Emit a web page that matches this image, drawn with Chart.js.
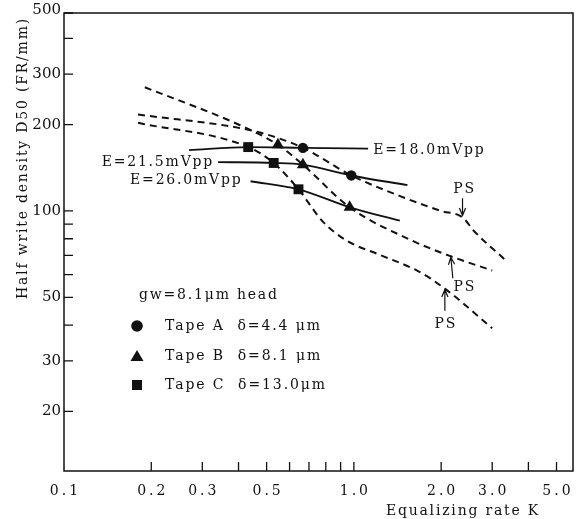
<!DOCTYPE html>
<html>
<head>
<meta charset="utf-8">
<style>
  html, body { margin: 0; padding: 0; background: #fff; }
  #wrap { width: 580px; height: 519px; }
</style>
</head>
<body>
<div id="wrap"><canvas id="chart_1"></canvas></div>
<script src="https://cdn.jsdelivr.net/npm/chart.js@4.4.1/dist/chart.umd.min.js"></script>
<script>
// dashed curves, one per tape (equalizing rate K, half write density D50)
const tapeA_K = [0.18, 0.46, 0.667, 0.98, 1.5, 2.0, 2.37, 2.6, 3.3];
const tapeA_D = [217, 189, 166, 133, 111, 100, 95, 85, 68];
const tapeB_K = [0.19, 0.405, 0.547, 0.667, 0.967, 1.58, 2.16, 3.0];
const tapeB_D = [270, 199, 170, 145, 103, 79, 69.5, 62];
const tapeC_K = [0.18, 0.432, 0.529, 0.644, 0.78, 0.94, 1.22, 1.67, 2.06, 3.0];
const tapeC_D = [203, 167, 147, 119, 92, 79, 70.5, 61.6, 53.6, 39];

// solid lines of constant recording level
const e18_K = [0.27, 0.432, 0.667, 1.12];
const e18_D = [163, 167, 166, 165];
const e215_K = [0.34, 0.529, 0.667, 0.98, 1.53];
const e215_D = [148, 147, 145, 133, 123];
const e26_K = [0.44, 0.644, 0.967, 1.44];
const e26_D = [127, 119, 103, 92.5];
const eLabels = ['E=18.0mVpp', 'E=21.5mVpp', 'E=26.0mVpp'];

// measured points
const circleK = [0.667, 0.98];
const circleD = [166, 133];
const triK = [0.547, 0.667, 0.967];
const triD = [170, 145, 103];
const squareK = [0.432, 0.529, 0.644];
const squareD = [167, 147, 119];

// PS points for tape A, B, C
const psK = [2.37, 2.16, 2.06];
const psD = [95, 69.5, 53.6];

const legendTitle = 'gw=8.1\u03bcm head';
const legendLabels = ['Tape A  \u03b4=4.4 \u03bcm', 'Tape B  \u03b4=8.1 \u03bcm', 'Tape C  \u03b4=13.0\u03bcm'];

const xTickMarks = [0.2, 0.3, 0.4, 0.5, 0.6, 0.7, 0.8, 0.9, 1, 2, 3, 4, 5];
const xTickLabels = [0.1, 0.2, 0.3, 0.5, 1, 2, 3, 5];
const yTickMarks = [20, 30, 40, 50, 60, 70, 80, 90, 100, 200, 300, 400, 500];
const yTickLabels = [20, 30, 50, 100, 200, 300, 500];

const INK = '#111';
const FONT = '14px "DejaVu Serif"';

function pts(xs, ys) {
    return xs.map((x, i) => ({ x: x, y: ys[i] }));
}

function dashed(xs, ys) {
    return {
        type: 'line', data: pts(xs, ys), order: 2,
        borderColor: INK, borderWidth: 2, borderDash: [7, 5],
        pointRadius: 0, fill: false, cubicInterpolationMode: 'monotone'
    };
}

function solid(xs, ys) {
    return {
        type: 'line', data: pts(xs, ys), order: 1,
        borderColor: INK, borderWidth: 1.9,
        pointRadius: 0, fill: false, cubicInterpolationMode: 'monotone'
    };
}

function markers(xs, ys, style, r) {
    return {
        type: 'scatter', data: pts(xs, ys), order: 0,
        pointStyle: style, pointRadius: r, pointHoverRadius: r,
        backgroundColor: INK, borderColor: INK, borderWidth: 0, showLine: false
    };
}

function arrow(ctx, x1, y1, x2, y2) {
    const a = Math.atan2(y2 - y1, x2 - x1);
    ctx.beginPath();
    ctx.moveTo(x1, y1);
    ctx.lineTo(x2, y2);
    ctx.moveTo(x2 - 8 * Math.cos(a - 0.4), y2 - 8 * Math.sin(a - 0.4));
    ctx.lineTo(x2, y2);
    ctx.lineTo(x2 - 8 * Math.cos(a + 0.4), y2 - 8 * Math.sin(a + 0.4));
    ctx.stroke();
}

const decorations = {
    id: 'decorations',
    afterDraw(chart) {
        const ctx = chart.ctx;
        const area = chart.chartArea;
        const x = chart.scales.x;
        const y = chart.scales.y;
        ctx.save();
        ctx.strokeStyle = INK;
        ctx.fillStyle = INK;

        // frame and inward ticks
        ctx.lineWidth = 1.5;
        ctx.strokeRect(area.left, area.top, area.right - area.left, area.bottom - area.top);
        ctx.lineWidth = 1.3;
        ctx.beginPath();
        xTickMarks.forEach(v => {
            const px = x.getPixelForValue(v);
            ctx.moveTo(px, area.bottom);
            ctx.lineTo(px, area.bottom - 9);
        });
        yTickMarks.forEach(v => {
            const py = Math.max(y.getPixelForValue(v), area.top);
            ctx.moveTo(area.left, py);
            ctx.lineTo(area.left + 9, py);
        });
        ctx.stroke();

        ctx.font = FONT;
        ctx.textBaseline = 'middle';

        // x tick labels
        ctx.letterSpacing = '3px';
        ctx.textAlign = 'center';
        xTickLabels.forEach(v => {
            ctx.fillText(v.toFixed(1), x.getPixelForValue(v) + 1.5, 491);
        });

        ctx.letterSpacing = '1.8px';
        // axis titles
        ctx.fillText('Equalizing rate K', 463, 511);
        ctx.save();
        ctx.translate(23, 158);
        ctx.rotate(-Math.PI / 2);
        ctx.fillText('Half write density D50 (FR/mm)', 0, 0);
        ctx.restore();

        // E labels at the line ends
        ctx.textAlign = 'left';
        const n = e18_K.length - 1;
        ctx.fillText(eLabels[0], x.getPixelForValue(e18_K[n]) + 5, y.getPixelForValue(e18_D[n]) + 2);
        ctx.textAlign = 'right';
        ctx.fillText(eLabels[1], x.getPixelForValue(e215_K[0]) - 4, y.getPixelForValue(e215_D[0]));
        ctx.fillText(eLabels[2], x.getPixelForValue(e26_K[0]) - 8, y.getPixelForValue(e26_D[0]) - 1);

        // PS arrows
        ctx.lineWidth = 1.2;
        ctx.textAlign = 'center';
        psK.forEach((k, i) => {
            const px = x.getPixelForValue(k);
            const py = y.getPixelForValue(psD[i]);
            if (i === 0) {
                arrow(ctx, px, py - 19, px, py - 2);
                ctx.fillText('PS', px + 2, py - 28);
            } else if (i === 1) {
                arrow(ctx, px + 2, py + 22, px, py + 1);
                ctx.fillText('PS', px + 14, py + 31);
            } else {
                arrow(ctx, px, py + 22, px, py + 1);
                ctx.fillText('PS', px + 1, py + 36);
            }
        });

        // legend inside the plot
        ctx.textAlign = 'left';
        const lx = area.left + 73;
        ctx.fillText(legendTitle, area.left + 75, 295);
        const rows = [326, 356, 385];
        ctx.beginPath();
        ctx.arc(lx, rows[0], 5.8, 0, Math.PI * 2);
        ctx.fill();
        ctx.beginPath();
        ctx.moveTo(lx, rows[1] - 6);
        ctx.lineTo(lx + 6.5, rows[1] + 5);
        ctx.lineTo(lx - 6.5, rows[1] + 5);
        ctx.closePath();
        ctx.fill();
        ctx.fillRect(lx - 5, rows[2] - 5, 10, 10);
        ctx.letterSpacing = '1.9px';
        legendLabels.forEach((t, i) => {
            ctx.fillText(t, area.left + 101, rows[i]);
        });
        ctx.restore();
    }
};

const ctx1 = document.getElementById('chart_1').getContext('2d');
const myChart1 = new Chart(ctx1, {
    data: {
        datasets: [
            markers(circleK, circleD, 'circle', 5.2),
            markers(triK, triD, 'triangle', 7),
            markers(squareK, squareD, 'rect', 7),
            solid(e18_K, e18_D),
            solid(e215_K, e215_D),
            solid(e26_K, e26_D),
            dashed(tapeA_K, tapeA_D),
            dashed(tapeB_K, tapeB_D),
            dashed(tapeC_K, tapeC_D)
        ]
    },
    options: {
        responsive: true,
        maintainAspectRatio: false,
        animation: false,
        devicePixelRatio: 1,
        layout: { padding: { top: 13, right: 3, left: 0, bottom: 0 } },
        plugins: { legend: { display: false }, tooltip: { enabled: false } },
        scales: {
            x: {
                type: 'logarithmic', min: 0.1, max: 5.7,
                grid: { display: false, drawTicks: false },
                border: { display: false },
                ticks: { display: false },
                afterFit: s => { s.height = 48; }
            },
            y: {
                type: 'logarithmic', min: 12.4, max: 490,
                grid: { display: false, drawTicks: false },
                border: { display: false },
                afterBuildTicks: s => { s.ticks = yTickLabels.map(v => ({ value: v })); },
                ticks: {
                    autoSkip: false, padding: 3, color: INK,
                    font: { family: 'DejaVu Serif', size: 15 },
                    callback: v => String(v)
                },
                afterFit: s => { s.width = 64; }
            }
        }
    },
    plugins: [decorations]
});
</script>
</body>
</html>
